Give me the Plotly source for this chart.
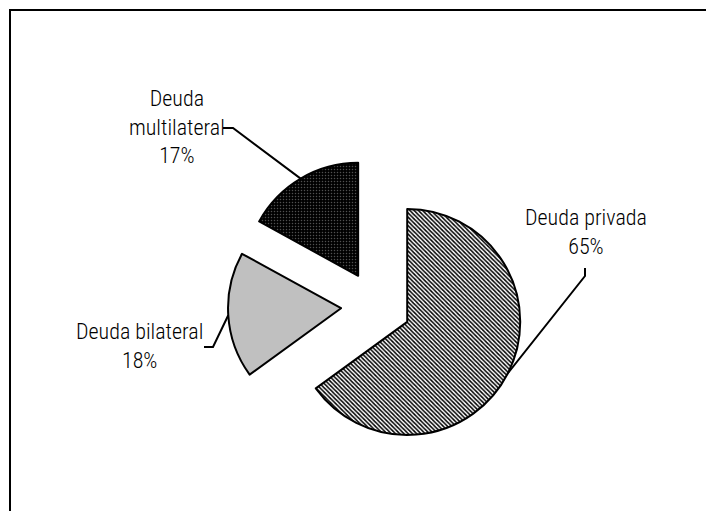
import math
import plotly.graph_objects as go

# ---- data ----
categories = ["Deuda privada", "Deuda bilateral", "Deuda multilateral"]
values = [65, 18, 17]
label_texts = ["Deuda privada<br>65%", "Deuda bilateral<br>18%", "Deuda<br>multilateral<br>17%"]

# ---- layout / style ----
W, H = 706, 511
CX, CY = 376, 306          # pie centre (px)
R = 113                    # slice radius (px)
PULL = 0.31
half = R * (1 + PULL)
dom_x = [(CX - half) / W, (CX + half) / W]
dom_y = [1 - (CY + half) / H, 1 - (CY - half) / H]

FONT = "Liberation Sans Narrow, Arial Narrow, Roboto Condensed, DejaVu Sans Condensed, Liberation Sans, sans-serif"

fig = go.Figure(go.Pie(
    labels=categories,
    values=values,
    sort=False,
    direction="clockwise",
    rotation=0,
    pull=[PULL] * 3,
    textinfo="none",
    hoverinfo="label+percent",
    domain=dict(x=dom_x, y=dom_y),
    marker=dict(
        colors=["white", "#C0C0C0", "black"],
        line=dict(color="black", width=2),
        pattern=dict(
            shape=["\\", "", "."],
            fgcolor=["black", "#C0C0C0", "#505050"],
            bgcolor=["white", "#C0C0C0", "black"],
            size=[3, 8, 3],
            solidity=[0.5, 0.3, 0.2],
        ),
    ),
    showlegend=False,
))

# label anchor (text centre, px) and elbow points for the leader lines
label_pos = [(586, 232), (139, 346), (177, 127)]
elbows = [[(585, 268), (585, 276)], [(204, 347), (213, 347)], [(223, 128), (233, 128)]]

def px2paper(x, y):
    return x / W, 1 - y / H

annotations = []
shapes = []
total = sum(values)
acc = 0
for i, v in enumerate(values):
    mid = (acc + v / 2) / total * 2 * math.pi
    acc += v
    dx, dy = math.sin(mid), -math.cos(mid)
    vx, vy = CX + PULL * R * dx, CY + PULL * R * dy
    ex, ey = vx + R * dx, vy + R * dy
    pts = elbows[i] + [(ex, ey)]
    path = "M " + " L ".join(f"{px2paper(x, y)[0]:.5f},{px2paper(x, y)[1]:.5f}" for x, y in pts)
    shapes.append(dict(type="path", xref="paper", yref="paper", path=path,
                       line=dict(color="black", width=2)))
    lx, ly = px2paper(*label_pos[i])
    annotations.append(dict(x=lx, y=ly, xref="paper", yref="paper", text=label_texts[i],
                            showarrow=False, xanchor="center", yanchor="middle", align="center",
                            font=dict(family=FONT, size=22, color="black", weight=300)))

# chart frame
shapes.append(dict(type="rect", xref="paper", yref="paper",
                   x0=10 / W, x1=1.05, y0=-0.05, y1=1 - 10 / H,
                   line=dict(color="black", width=2), fillcolor="rgba(0,0,0,0)"))

fig.update_layout(
    width=W, height=H,
    margin=dict(l=0, r=0, t=0, b=0),
    paper_bgcolor="white",
    plot_bgcolor="white",
    annotations=annotations,
    shapes=shapes,
)

fig.write_html(
    "out.html",
    config={"displayModeBar": False},
    post_script="document.body.style.margin='0';document.body.style.overflow='hidden';"
                "document.documentElement.style.overflow='hidden';",
)
